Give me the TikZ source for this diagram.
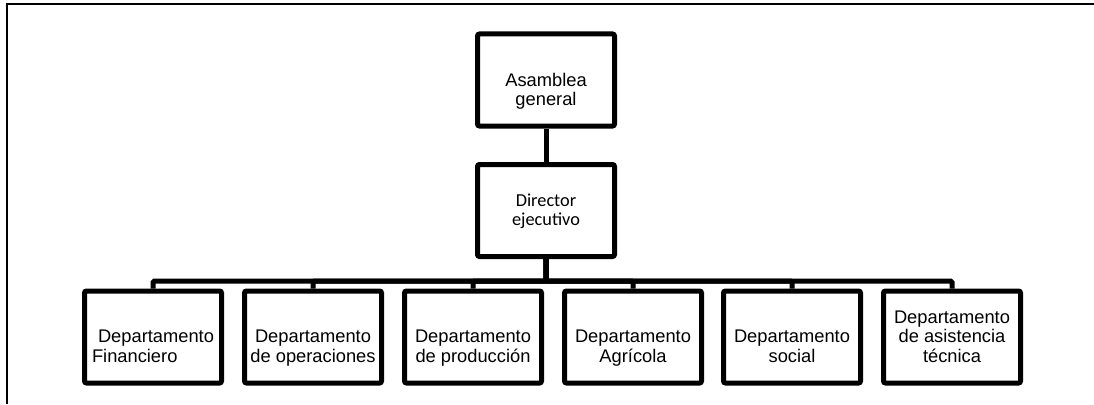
\documentclass[tikz,border=0pt]{standalone}
\usepackage{fontspec}
\setmainfont{Liberation Sans}
\newfontfamily\carlito{Carlito}

\begin{document}
\begin{tikzpicture}[x=1pt,y=-1pt,
  font=\fontsize{18.3}{19.5}\selectfont,
  box/.style={draw,line width=5pt,rounded corners=2pt,minimum width=137pt,minimum height=92pt,inner sep=0pt,align=center,text height=60pt,text depth=10pt},
  conn/.style={line width=5pt,rounded corners=1.5pt}]
\useasboundingbox (0,0) rectangle (1094,404);
% frame
\draw[line width=2.5pt] (7,404) -- (7,4) -- (1094,4);
% top of the chart
\node[box,font=\fontsize{18.3}{18.3}\selectfont] (asamblea) at (546,80) {Asamblea\\general};
\node[box,text height=39pt,font=\carlito\fontsize{18.3}{18.3}\selectfont] (director) at (546,210.5) {Director\\ejecutivo};
\draw[conn] (asamblea.south) -- (director.north);
% departments
\node[box,align=left] (dfin) at (153,337) {\hspace*{6pt}Departamento\\Financiero};
\node[box] (dope) at (313,337) {Departamento\\de operaciones};
\node[box] (dpro) at (473,337) {Departamento\\de producción};
\node[box] (dagr) at (633,337) {Departamento\\Agrícola};
\node[box] (dsoc) at (792,337) {Departamento\\social};
\node[box] (dasi) at (952,337) {Departamento\\de asistencia\\técnica};
\foreach \d in {dfin,dope,dpro,dagr,dsoc,dasi}
  \draw[conn] (director.south) -- ++(0,22) -| (\d.north);
\end{tikzpicture}
\end{document}
